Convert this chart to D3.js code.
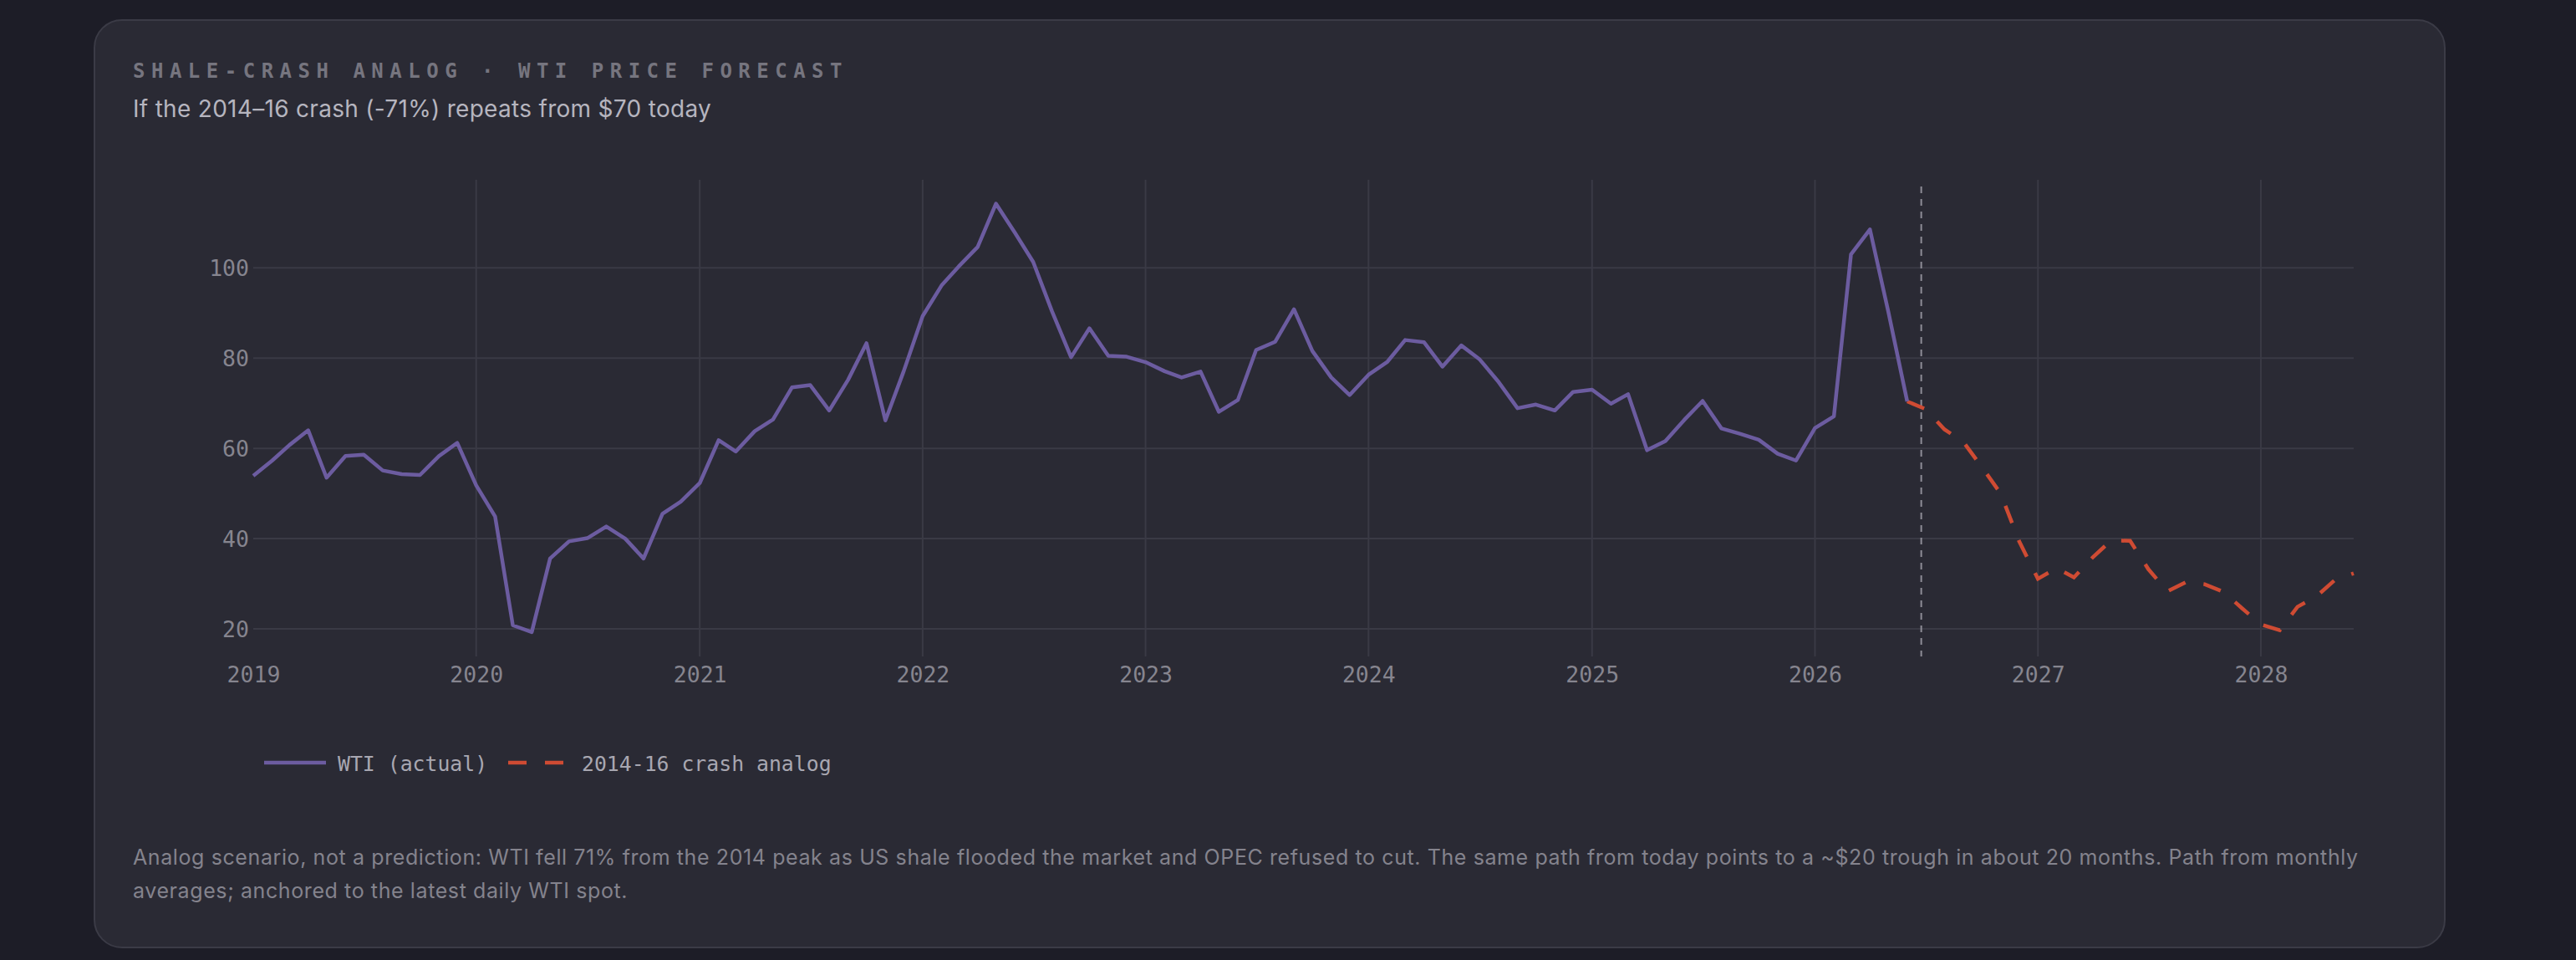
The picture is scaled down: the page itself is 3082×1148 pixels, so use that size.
<!DOCTYPE html>
<html>
<head>
<meta charset="utf-8">
<script src="https://cdn.jsdelivr.net/npm/d3@7"></script>
<style>
	html, body { margin: 0; padding: 0; }
	body { width: 3082px; height: 1148px; background: #1d1d27; position: relative; overflow: hidden; }
	.card {
		position: absolute; left: 112px; top: 23px; width: 2810px; height: 1107px;
		background: #2a2a34; border: 2px solid #3b3b46; border-radius: 34px;
	}
	.kicker {
		position: absolute; left: 159px; top: 70px;
		font-family: "DejaVu Sans Mono", monospace; font-weight: bold; font-size: 24px;
		letter-spacing: 7.5px; color: #76757f; white-space: nowrap; line-height: 30px;
	}
	.subtitle {
		position: absolute; left: 159px; top: 110px;
		font-family: Inter, "Noto Sans", sans-serif; font-size: 28px; letter-spacing: 0.3px;
		color: #b6b5bf; white-space: nowrap; line-height: 40px;
	}
	.note {
		position: absolute; left: 159px; top: 1005px; width: 2720px;
		font-family: Inter, "Noto Sans", sans-serif; font-size: 25px; letter-spacing: 0.6px;
		line-height: 40px; color: #84838d;
	}
	svg { position: absolute; left: 0; top: 0; }
	.tick-label { font-family: "DejaVu Sans Mono", monospace; font-size: 26.5px; fill: #86858f; }
	.legend-label { font-family: "DejaVu Sans Mono", monospace; font-size: 24.8px; fill: #a8a7b1; }
</style>
</head>
<body>
<div class="card"></div>
<div class="kicker">SHALE-CRASH ANALOG · WTI PRICE FORECAST</div>
<div class="subtitle">If the 2014–16 crash (-71%) repeats from $70 today</div>
<div class="note">Analog scenario, not a prediction: WTI fell 71% from the 2014 peak as US shale flooded the market and OPEC refused to cut. The same path from today points to a ~$20 trough in about 20 months. Path from monthly averages; anchored to the latest daily WTI spot.</div>
<svg class="chart" width="3082" height="1148"></svg>
<script>
// monthly WTI averages, first value is Jan 2019
let actualStart = "2019-01"
let wtiActual = [
	53.9, 57.3, 60.7, 64.0, 53.5, 58.3, 58.6, 55.1, 54.3, 54.1, 58.3, 61.2,
	51.8, 44.9, 20.8, 19.3, 35.6, 39.4, 40.1, 42.7, 40.0, 35.6, 45.5, 48.2,
	52.3, 61.8, 59.3, 63.8, 66.4, 73.5, 74.0, 68.4, 75.2, 83.3, 66.2, 77.1,
	89.3, 96.1, 100.3, 104.6, 114.2, 107.8, 101.3, 90.3, 80.2, 86.6, 80.5, 80.3,
	79.1, 77.1, 75.7, 77.0, 68.1, 70.7, 81.8, 83.6, 90.8, 81.6, 75.7, 71.8,
	76.3, 79.2, 84.0, 83.5, 78.1, 82.8, 79.7, 74.7, 68.9, 69.7, 68.4, 72.5,
	73.0, 69.9, 72.0, 59.6, 61.6, 66.3, 70.5, 64.4, 63.2, 61.9, 58.8, 57.3,
	64.5, 67.1, 103.0, 108.5, 90.3, 70.4
]

// 2014-16 analog path, first value is Jun 2026
let analogStart = "2026-06"
let analogPath = [
	70.4, 68.7, 64.2, 61.4, 55.9, 50.0, 39.5, 31.1, 33.5, 31.4, 35.9, 39.6,
	39.5, 33.2, 28.3, 30.4, 29.9, 28.2, 24.6, 21.0, 19.7, 24.9, 27.2, 30.8, 32.3
]

let todayDate = "2026-06-24"
let yTicks = [20, 40, 60, 80, 100]
let xTickYears = [2019, 2020, 2021, 2022, 2023, 2024, 2025, 2026, 2027, 2028]
let seriesNames = ["WTI (actual)", "2014-16 crash analog"]
let seriesColors = ["#6c5ca0", "#cf4b33"]

const parseMonth = d3.timeParse("%Y-%m")
const parseDay = d3.timeParse("%Y-%m-%d")

function toPoints(start, values) {
	let s = parseMonth(start)
	return values.map((v, i) => ({ date: d3.timeMonth.offset(s, i), value: v }))
}

let actual = toPoints(actualStart, wtiActual)
let analog = toPoints(analogStart, analogPath)

const $svg = d3.select('.chart')

let plotLeft = 303, plotRight = 2816, plotTop = 215, plotBottom = 785

let xScale = d3.scaleTime()
	.domain([actual[0].date, analog[analog.length - 1].date])
	.range([plotLeft, plotRight])

let yScale = d3.scaleLinear()
	.domain([13.9, 119.5])
	.range([plotBottom, plotTop])

let yearDates = xTickYears.map(y => new Date(y, 0, 1))

// grid
let grid = $svg.append("g").attr("class", "grid")

grid.selectAll("line.h")
	.data(yTicks)
	.enter()
		.append("line")
		.attr("class", "h")
		.attr("x1", plotLeft)
		.attr("x2", plotRight)
		.attr("y1", d => yScale(d))
		.attr("y2", d => yScale(d))
		.attr("stroke", "#3a3a45")
		.attr("stroke-width", 2)

grid.selectAll("line.v")
	.data(yearDates.filter(d => xScale(d) > plotLeft + 1))
	.enter()
		.append("line")
		.attr("class", "v")
		.attr("x1", d => xScale(d))
		.attr("x2", d => xScale(d))
		.attr("y1", plotTop)
		.attr("y2", plotBottom)
		.attr("stroke", "#3a3a45")
		.attr("stroke-width", 2)

// axes
let yAxis = d3.axisLeft(yScale).tickValues(yTicks).tickSize(0).tickPadding(5)
let xAxis = d3.axisBottom(xScale).tickValues(yearDates).tickSize(0).tickPadding(0).tickFormat(d3.timeFormat("%Y"))

let yG = $svg.append("g")
	.attr("transform", "translate(" + plotLeft + ",0)")
	.call(yAxis)

let xG = $svg.append("g")
	.attr("transform", "translate(0," + plotBottom + ")")
	.call(xAxis)

yG.select(".domain").remove()
xG.select(".domain").remove()
yG.attr("font-family", null).attr("font-size", null)
xG.attr("font-family", null).attr("font-size", null)

yG.selectAll("text")
	.attr("class", "tick-label")
	.attr("dy", "0.36em")
	.attr("fill", null)

xG.selectAll("text")
	.attr("class", "tick-label")
	.attr("y", 31)
	.attr("dy", 0)
	.attr("fill", null)

// today marker
let today = parseDay(todayDate)
$svg.append("line")
	.attr("x1", xScale(today))
	.attr("x2", xScale(today))
	.attr("y1", 223)
	.attr("y2", plotBottom)
	.attr("stroke", "#8e8d97")
	.attr("stroke-width", 2)
	.attr("stroke-dasharray", "8,7")

let line = d3.line()
	.x(d => xScale(d.date))
	.y(d => yScale(d.value))

$svg.append("path")
	.datum(analog)
	.attr("fill", "none")
	.attr("stroke", seriesColors[1])
	.attr("stroke-width", 4.5)
	.attr("stroke-dasharray", "22,22")
	.attr("d", line)

$svg.append("path")
	.datum(actual)
	.attr("fill", "none")
	.attr("stroke", seriesColors[0])
	.attr("stroke-width", 4.5)
	.attr("stroke-linejoin", "round")
	.attr("d", line)

// legend
let legend = $svg.append("g").attr("transform", "translate(316,912)")
let legendX = [0, 292]

for (var i = 0; i < 2; i++) {
	legend.append("line")
		.attr("x1", legendX[i])
		.attr("x2", legendX[i] + 74)
		.attr("y1", 0)
		.attr("y2", 0)
		.attr("stroke", seriesColors[i])
		.attr("stroke-width", 4.5)
		.attr("stroke-dasharray", i == 1 ? "22,22" : null)

	legend.append("text")
		.attr("class", "legend-label")
		.attr("x", legendX[i] + 88)
		.attr("y", 10)
		.text(seriesNames[i])
}
</script>
</body>
</html>
